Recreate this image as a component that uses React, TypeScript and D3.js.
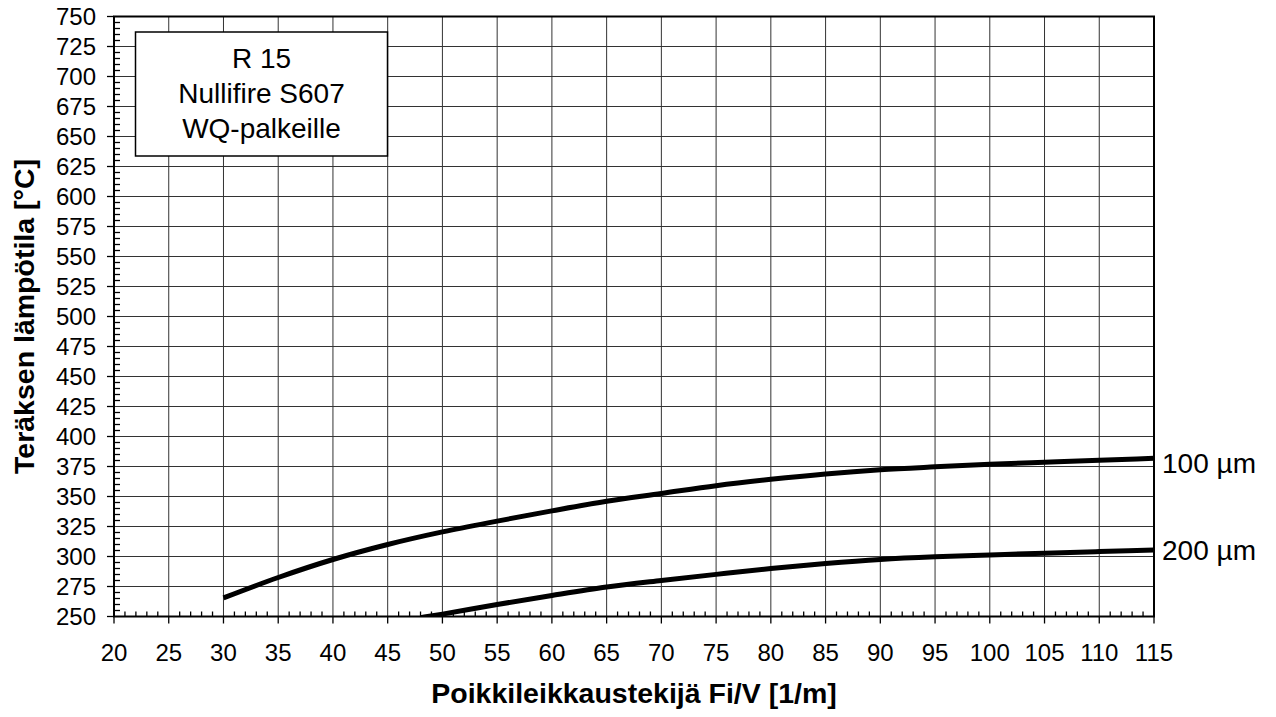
import * as d3 from 'd3'
import React, { useEffect, useRef } from 'react'

// Fi/V values and steel temperatures
const fiv100 = [30, 35, 40, 45, 50, 55, 60, 65, 70, 75, 80, 85, 90, 95, 100, 105, 110, 115]
const temp100 = [265.5, 282.5, 297.5, 310, 320.5, 329.5, 338, 346, 352.5, 359, 364.3, 368.8, 372.3, 374.7, 376.8, 378.5, 380.2, 381.8]

const fiv200 = [48, 50, 55, 60, 65, 70, 75, 80, 85, 90, 95, 100, 105, 110, 115]
const temp200 = [249, 252, 260, 267.5, 274.5, 280, 285.1, 290, 294.2, 297.6, 299.8, 301.3, 302.8, 304.1, 305.4]

const seriesLabels = ['100 µm', '200 µm']
const boxLines = ['R 15', 'Nullifire S607', 'WQ-palkeille']

const xTicks = d3.range(20, 116, 5)
const yTicks = d3.range(250, 751, 25)

const W = 1276
const H = 717
const FONT = '"Liberation Sans", Arial, sans-serif'

const App = () => {
    const ref = useRef<SVGSVGElement>(null)

    useEffect(() => {
        document.body.style.margin = '0'
        drawChart()
    }, [])

    function drawChart() {
        const svg = d3.select(ref.current)
        svg.selectAll('*').remove()

        const left = 114, right = 1154, top = 16.5, bottom = 616.5

        const x = d3.scaleLinear().domain([20, 115]).range([left, right])
        const y = d3.scaleLinear().domain([250, 750]).range([bottom, top])

        svg.append('rect').attr('width', W).attr('height', H).attr('fill', 'white')

        // Grid
        const grid = svg.append('g').attr('stroke', '#333').attr('stroke-width', 1)
        xTicks.slice(1).forEach(t => {
            grid.append('line')
                .attr('x1', x(t)).attr('x2', x(t))
                .attr('y1', top).attr('y2', bottom)
        })
        yTicks.slice(1).forEach(t => {
            grid.append('line')
                .attr('x1', left).attr('x2', right)
                .attr('y1', y(t)).attr('y2', y(t))
        })

        // Minor ticks (inside)
        const minor = svg.append('g').attr('stroke', 'black').attr('stroke-width', 1.3)
        d3.range(21, 115, 1).filter(v => v % 5 !== 0).forEach(v => {
            minor.append('line')
                .attr('x1', x(v)).attr('x2', x(v))
                .attr('y1', bottom).attr('y2', bottom - 5)
        })
        d3.range(255, 750, 5).filter(v => v % 25 !== 0).forEach(v => {
            minor.append('line')
                .attr('x1', left).attr('x2', left + 6)
                .attr('y1', y(v)).attr('y2', y(v))
        })

        // Major ticks (outside)
        const major = svg.append('g').attr('stroke', 'black').attr('stroke-width', 1.3)
        xTicks.forEach(t => {
            major.append('line')
                .attr('x1', x(t)).attr('x2', x(t))
                .attr('y1', bottom).attr('y2', bottom + 7)
        })
        yTicks.forEach(t => {
            major.append('line')
                .attr('x1', left - 7).attr('x2', left)
                .attr('y1', y(t)).attr('y2', y(t))
        })

        // Plot frame
        svg.append('rect')
            .attr('x', left).attr('y', top)
            .attr('width', right - left).attr('height', bottom - top)
            .attr('fill', 'none')
            .attr('stroke', 'black')
            .attr('stroke-width', 2)

        // Tick labels
        svg.append('g')
            .selectAll('text')
            .data(xTicks)
            .enter()
            .append('text')
            .attr('x', d => x(d))
            .attr('y', 661)
            .attr('text-anchor', 'middle')
            .style('font-family', FONT)
            .style('font-size', '24px')
            .text(d => d)

        svg.append('g')
            .selectAll('text')
            .data(yTicks)
            .enter()
            .append('text')
            .attr('x', 96)
            .attr('y', d => y(d) + 8.5)
            .attr('text-anchor', 'end')
            .style('font-family', FONT)
            .style('font-size', '24px')
            .text(d => d)

        // Axis titles
        svg.append('text')
            .attr('x', (left + right) / 2)
            .attr('y', 703)
            .attr('text-anchor', 'middle')
            .style('font-family', FONT)
            .style('font-size', '28.5px')
            .style('font-weight', 'bold')
            .text('Poikkileikkaustekijä Fi/V [1/m]')

        svg.append('text')
            .attr('transform', `translate(34, ${(top + bottom) / 2}) rotate(-90)`)
            .attr('text-anchor', 'middle')
            .style('font-family', FONT)
            .style('font-size', '28.5px')
            .style('font-weight', 'bold')
            .text('Teräksen lämpötila [°C]')

        // Curves
        svg.append('clipPath').attr('id', 'plotclip')
            .append('rect')
            .attr('x', left).attr('y', top)
            .attr('width', right - left).attr('height', bottom - top)

        const line = d3.line<[number, number]>()
            .x(d => x(d[0]))
            .y(d => y(d[1]))
            .curve(d3.curveMonotoneX)

        const series: [number, number][][] = [
            fiv100.map((v, i) => [v, temp100[i]]),
            fiv200.map((v, i) => [v, temp200[i]]),
        ]

        svg.append('g')
            .attr('clip-path', 'url(#plotclip)')
            .selectAll('path')
            .data(series)
            .enter()
            .append('path')
            .attr('d', d => line(d))
            .attr('fill', 'none')
            .attr('stroke', 'black')
            .attr('stroke-width', 5)

        // Series labels at line ends
        svg.append('g')
            .selectAll('text')
            .data(series)
            .enter()
            .append('text')
            .attr('x', 1162)
            .attr('y', (d, i) => y(d[d.length - 1][1]) + (i === 0 ? 15 : 10))
            .style('font-family', FONT)
            .style('font-size', '28px')
            .text((d, i) => seriesLabels[i])

        // Text box
        svg.append('rect')
            .attr('x', 135.5).attr('y', 32)
            .attr('width', 252).attr('height', 124)
            .attr('fill', 'white')
            .attr('stroke', 'black')
            .attr('stroke-width', 1.5)

        svg.append('g')
            .selectAll('text')
            .data(boxLines)
            .enter()
            .append('text')
            .attr('x', 261.5)
            .attr('y', (d, i) => 67.5 + i * 35)
            .attr('text-anchor', 'middle')
            .style('font-family', FONT)
            .style('font-size', '28px')
            .text(d => d)
    }

    return (
        <div style={{ position: 'absolute', left: 0, top: 0 }}>
            <svg ref={ref} width={W} height={H} style={{ display: 'block' }} />
        </div>
    )
}

export default App
